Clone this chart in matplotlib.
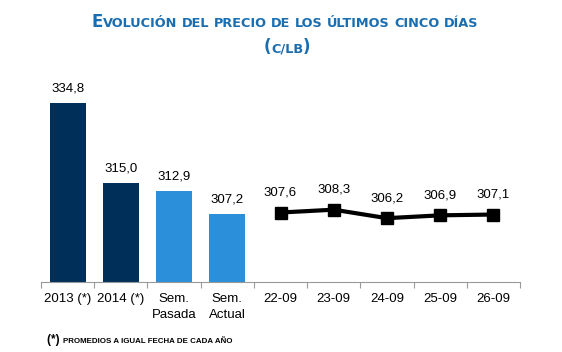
import matplotlib
matplotlib.use('Agg')
import matplotlib.pyplot as plt

categories = ['2013 (*)', '2014 (*)', 'Sem.\nPasada', 'Sem.\nActual',
              '22-09', '23-09', '24-09', '25-09', '26-09']
bar_values = [334.8, 315.0, 312.9, 307.2]
bar_colors = ['#00305a', '#00305a', '#2b8fd9', '#2b8fd9']
line_values = [307.6, 308.3, 306.2, 306.9, 307.1]

W, H = 562, 352
fig = plt.figure(figsize=(W / 100, H / 100), dpi=100)

# axes placed in pixels: left 41, right 520, baseline 282, top 80
ax = fig.add_axes([41 / W, (H - 282) / H, (520 - 41) / W, (282 - 80) / H])
ymin = 290.4
ax.set_ylim(ymin, ymin + 202 / 4.04)
ax.set_xlim(-0.5, len(categories) - 0.5)

xb = list(range(len(bar_values)))
ax.bar(xb, [v - ymin for v in bar_values], bottom=ymin, width=0.68,
       color=bar_colors)
for x, v in zip(xb, bar_values):
    ax.annotate(f'{v:.1f}'.replace('.', ','), (x, v), xytext=(0, 6),
                textcoords='offset points', ha='center', va='bottom',
                fontsize=9.5, family='Liberation Sans')

xl = list(range(len(bar_values), len(categories)))
ax.plot(xl, line_values, color='black', lw=3, marker='s', ms=8)
for x, v in zip(xl, line_values):
    ax.annotate(f'{v:.1f}'.replace('.', ','), (x, v), xytext=(0, 10),
                textcoords='offset points', ha='center', va='bottom',
                fontsize=9.5, family='Liberation Sans')

for s in ['top', 'right', 'left']:
    ax.spines[s].set_visible(False)
ax.spines['bottom'].set_color('#999999')
ax.set_yticks([])
ax.set_xticks([i - 0.5 for i in range(len(categories) + 1)], minor=False)
ax.set_xticklabels([])
ax.tick_params(axis='x', length=4, color='#999999')
for i, c in enumerate(categories):
    ax.text(i, -0.055, c, transform=ax.get_xaxis_transform(), ha='center',
            va='top', fontsize=9.5, family='Liberation Sans', linespacing=1.45)


def small_caps(parts, x, y, color, weight, family, anchor='center'):
    # parts: list of (text, size); placed left to right in pixels
    r = fig.canvas.get_renderer()
    texts, widths = [], []
    for s, size in parts:
        t = fig.text(0, 0, s, fontsize=size, color=color, weight=weight,
                     family=family, va='baseline', ha='left')
        widths.append(t.get_window_extent(r).width)
        texts.append(t)
    total = sum(widths)
    cx = x - total / 2 if anchor == 'center' else x
    for t, w in zip(texts, widths):
        t.set_position((cx / W, (H - y) / H))
        cx += w


def sc_parts(text, big, small):
    out = []
    for word in text.split(' '):
        if out:
            out.append((' ', small))
        if word[0].isupper():
            out.append((word[0], big))
            if len(word) > 1:
                out.append((word[1:].upper(), small))
        else:
            out.append((word.upper(), small))
    return out


blue = '#1a6eb0'
small_caps(sc_parts('Evolución del precio de los últimos cinco días', 12, 9.3),
           285, 27, blue, 'bold', 'DejaVu Sans')
small_caps([('(', 12), ('C/LB', 9.3), (')', 12)], 287, 52, blue, 'bold',
           'DejaVu Sans')
small_caps([('(*) ', 8.5), ('PROMEDIOS A IGUAL FECHA DE CADA AÑO', 5.7)],
           47, 343, 'black', 'bold', 'Liberation Sans', anchor='left')

fig.savefig('out.png', dpi=100)
